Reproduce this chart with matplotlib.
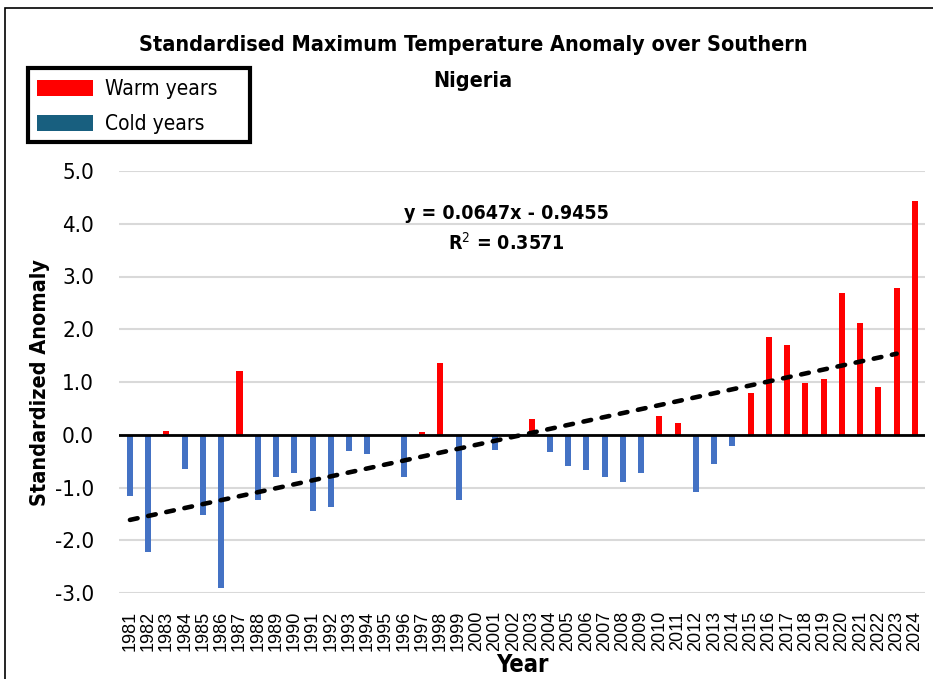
import numpy as np
import matplotlib
matplotlib.use('Agg')
from matplotlib import pyplot as plt
from matplotlib.patches import Patch, Rectangle

plt.rcParams['font.family'] = ['DejaVu Sans']
plt.rcParams['font.stretch'] = 'condensed'

years = list(range(1981, 2025))
anomaly = [-1.17, -2.22, 0.08, -0.64, -1.53, -2.90, 1.20, -1.23, -0.81, -0.72,
           -1.44, -1.37, -0.30, -0.36, 0.00, -0.81, 0.05, 1.36, -1.23, 0.00,
           -0.29, -0.06, 0.30, -0.32, -0.60, -0.66, -0.81, -0.89, -0.72, 0.35,
           0.22, -1.08, -0.56, -0.22, 0.79, 1.86, 1.71, 0.98, 1.06, 2.68,
           2.11, 0.91, 2.78, 4.44]
yticks = [5.0, 4.0, 3.0, 2.0, 1.0, 0.0, -1.0, -2.0, -3.0]

W, H = 933, 679
fig = plt.figure(figsize=(W / 100, H / 100), dpi=100)
ax = fig.add_axes([119 / W, 1 - 593 / H, 806 / W, 422 / H])

# thin frame round the figure (open at right and bottom, as in the original crop)
fig.patches.append(Rectangle((5 / W, -0.01), 1.0, 1 - 8 / H + 0.01, transform=fig.transFigure,
                             fill=False, edgecolor='black', linewidth=1.2))

xs = np.arange(len(years))
vals = np.array(anomaly)
colors = ['#ff0000' if v > 0 else '#4472c4' for v in vals]
ax.bar(xs, vals, width=0.33, color=colors, zorder=3)

# linear trend, drawn to 2023 like the Excel trendline
coef = np.polyfit(xs + 1, vals, 1)
xt = xs[:-1]
ax.plot(xt, np.polyval(coef, xt + 1), color='black', linestyle=(0, (1.7, 2.35)),
        linewidth=3.3, dash_capstyle='round', zorder=4)

ax.axhline(0, color='black', linewidth=2, zorder=5)
ax.set_ylim(-3, 5)
ax.set_xlim(-0.6, len(years) - 0.45)
ax.set_yticks(yticks)
ax.set_yticklabels(['%.1f' % t for t in yticks], fontsize=16)
ax.set_xticks(xs)
ax.set_xticklabels([str(y) for y in years], rotation=90, fontsize=13,
                   family='Liberation Sans', stretch='normal')
ax.tick_params(length=0)
ax.tick_params(axis='x', pad=13)
ax.tick_params(axis='y', pad=18)
ax.grid(axis='y', color='#d9d9d9', linewidth=1.5, zorder=0)
for s in ax.spines.values():
    s.set_visible(False)

ax.set_ylabel('Standardized Anomaly', fontsize=15.5, fontweight='bold')
ax.yaxis.set_label_coords(-0.086, 0.5)
ax.set_xlabel('Year', fontsize=17, fontweight='bold')
ax.xaxis.set_label_coords(0.5, -0.142)

# title in two lines, as wrapped in the original
fig.text(0.507, 1 - 45 / H, 'Standardised Maximum Temperature Anomaly over Southern',
         ha='center', va='center', fontsize=15.5, fontweight='bold')
fig.text(0.507, 1 - 81 / H, 'Nigeria',
         ha='center', va='center', fontsize=15.5, fontweight='bold')

ax.text(0.481, 0.900, 'y = %.4fx - %.4f' % (0.0647, 0.9455), transform=ax.transAxes,
        ha='center', va='center', fontsize=14, fontweight='bold')
ax.text(0.481, 0.829, 'R$^{2}$ = 0.3571', transform=ax.transAxes,
        ha='center', va='center', fontsize=14, fontweight='bold')

handles = [Patch(facecolor='#ff0000', label='Warm years'),
           Patch(facecolor='#185f7f', label='Cold years')]
leg = fig.legend(handles=handles, loc='upper left', bbox_to_anchor=(37 / W, 1 - 79 / H),
                 fontsize=15, frameon=False, borderpad=0, borderaxespad=0,
                 handlelength=2.7, handleheight=0.8, handletextpad=0.55, labelspacing=0.72)
fig.patches.append(Rectangle((28 / W, 1 - 142 / H), 222 / W, 74 / H, transform=fig.transFigure,
                             fill=False, edgecolor='black', linewidth=3))

fig.savefig('out.png', dpi=100)
